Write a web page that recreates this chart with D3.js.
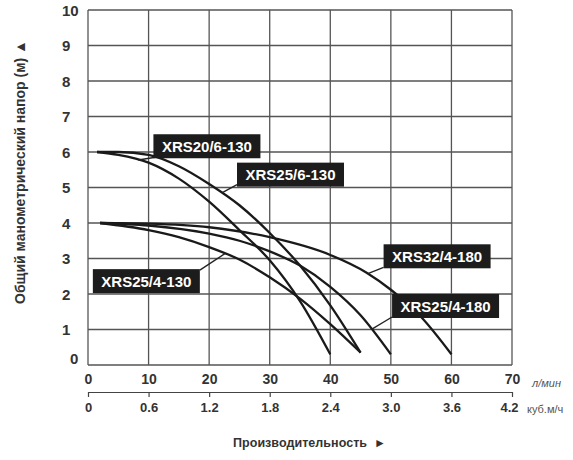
<!DOCTYPE html>
<html>
<head>
<meta charset="utf-8">
<script src="https://cdn.jsdelivr.net/npm/d3@7"></script>
<style>
  body { margin: 0; background: #fff; }
  text { font-family: "Liberation Sans", Arial, sans-serif; }
</style>
</head>
<body>
<script>
// pump curves: flow (l/min) -> head (m)
const models = ['XRS20/6-130', 'XRS25/6-130', 'XRS25/4-130', 'XRS32/4-180', 'XRS25/4-180']

const flow20_6_130 = [1.5, 5, 10, 15, 20, 25, 30, 35, 40]
const head20_6_130 = [6.0, 5.92, 5.7, 5.25, 4.6, 3.8, 2.95, 1.8, 0.3]

const flow25_6_130 = [1.5, 5, 10, 15, 20, 25, 30, 35, 40, 45]
const head25_6_130 = [6.0, 6.0, 5.92, 5.6, 5.1, 4.5, 3.72, 2.8, 1.68, 0.35]

const flow25_4_130 = [2, 10, 15, 20, 25, 30, 35, 40, 45]
const head25_4_130 = [4.0, 3.8, 3.6, 3.32, 2.97, 2.47, 1.87, 1.15, 0.35]

const flow32_4_180 = [2, 10, 20, 30, 40, 46, 50, 55, 60]
const head32_4_180 = [4.0, 3.98, 3.88, 3.6, 3.1, 2.6, 2.12, 1.35, 0.3]

const flow25_4_180 = [2, 10, 20, 25, 30, 35, 40, 45, 50]
const head25_4_180 = [4.0, 3.93, 3.7, 3.5, 3.2, 2.8, 2.2, 1.4, 0.3]

const headTicks = [0, 1, 2, 3, 4, 5, 6, 7, 8, 9, 10]
const flowTicks = [0, 10, 20, 30, 40, 50, 60, 70]
const flowM3Ticks = [0, 0.6, 1.2, 1.8, 2.4, 3.0, 3.6, 4.2]

const series = [
  { name: models[0], flow: flow20_6_130, head: head20_6_130 },
  { name: models[1], flow: flow25_6_130, head: head25_6_130 },
  { name: models[2], flow: flow25_4_130, head: head25_4_130 },
  { name: models[3], flow: flow32_4_180, head: head32_4_180 },
  { name: models[4], flow: flow25_4_180, head: head25_4_180 }
]

// label boxes: top-left corner (data units), pointer box end (px offset) and target flow on the curve
const labels = [
  { s: 0, bx: 10.8, by: 6.5, px: 2, py: 23, at: 8.3 },
  { s: 1, bx: 24.6, by: 5.7, px: 0, py: 22, at: 22.1 },
  { s: 2, bx: 0.8, by: 2.7, px: 107, py: 1, at: 22.6 },
  { s: 3, bx: 48.8, by: 3.4, px: 0, py: 23, at: 46.2 },
  { s: 4, bx: 50.2, by: 2.0, px: 0, py: 23, at: 46.8 }
]

const W = 573, H = 460
const x = d3.scaleLinear().domain([0, 70]).range([88, 512])
const x2 = d3.scaleLinear().domain([0, 4.2]).range([88, 512])
const y = d3.scaleLinear().domain([0, 10]).range([365, 10])

const svg = d3.select('body').append('svg')
  .attr('width', W)
  .attr('height', H)

// grid
const grid = svg.append('g').attr('stroke', '#555').attr('stroke-width', 1.3)
grid.selectAll('.v').data(flowTicks).join('line')
  .attr('x1', d => x(d)).attr('x2', d => x(d))
  .attr('y1', y(10)).attr('y2', y(0))
grid.selectAll('.h').data(headTicks).join('line')
  .attr('y1', d => y(d)).attr('y2', d => y(d))
  .attr('x1', x(0)).attr('x2', x(70))

// y axis labels
const yAxis = svg.append('g')
  .attr('transform', `translate(${x(0)},0)`)
  .call(d3.axisLeft(y).tickValues(headTicks).tickSize(0).tickPadding(0))
yAxis.select('.domain').remove()
yAxis.selectAll('text')
  .attr('text-anchor', 'start')
  .attr('x', d => d === 0 ? -18 : -26)
  .attr('dy', d => d === 0 ? '-0.1em' : '0.35em')
  .attr('font-size', 15).attr('font-weight', 'bold').attr('fill', '#333')
  .style('font-family', '"Liberation Sans", Arial, sans-serif')

// flow l/min labels
const xAxis = svg.append('g')
  .attr('transform', `translate(0,${y(0)})`)
  .call(d3.axisBottom(x).tickValues(flowTicks).tickSize(0).tickPadding(9))
xAxis.select('.domain').remove()
xAxis.selectAll('text')
  .attr('font-size', 14).attr('font-weight', 'bold').attr('fill', '#333')
  .style('font-family', '"Liberation Sans", Arial, sans-serif')

// flow m3/h axis
const x2Axis = svg.append('g')
  .attr('transform', 'translate(0,392)')
  .call(d3.axisBottom(x2).tickValues(flowM3Ticks).tickSize(5).tickSizeOuter(0).tickPadding(6)
    .tickFormat(d => d === 0 ? '0' : d.toFixed(1)))
x2Axis.select('.domain').attr('stroke', '#444').attr('stroke-width', 1.2)
x2Axis.selectAll('line').attr('stroke', '#444').attr('stroke-width', 1.2)
x2Axis.selectAll('text')
  .attr('font-size', 13).attr('font-weight', 'bold').attr('fill', '#333')
  .attr('dx', d => d === 4.2 ? -3 : 0)
  .style('font-family', '"Liberation Sans", Arial, sans-serif')

// units
svg.append('text').attr('x', 532).attr('y', 387)
  .attr('font-size', 11).attr('fill', '#555').attr('font-style', 'italic')
  .text('л/мин')
svg.append('text').attr('x', 527).attr('y', 413)
  .attr('font-size', 11).attr('fill', '#555')
  .text('куб.м/ч')

// axis titles
svg.append('text').attr('x', 233).attr('y', 447)
  .attr('font-size', 12.5).attr('font-weight', 'bold').attr('fill', '#333')
  .attr('textLength', 134)
  .text('Производительность')
svg.append('text').attr('x', 374).attr('y', 447)
  .attr('font-size', 12).attr('fill', '#333')
  .text('►')
svg.append('text')
  .attr('transform', 'translate(25,172) rotate(-90)')
  .attr('text-anchor', 'middle')
  .attr('font-size', 14).attr('font-weight', 'bold').attr('fill', '#333')
  .text('Общий манометрический напор (м) ▲')

// curves
const line = d3.line()
  .x(d => x(d[0]))
  .y(d => y(d[1]))
  .curve(d3.curveMonotoneX)

svg.append('g').selectAll('path').data(series).join('path')
  .attr('d', s => line(s.flow.map((f, i) => [f, s.head[i]])))
  .attr('fill', 'none')
  .attr('stroke', '#1a1a1a')
  .attr('stroke-width', 2.3)

// head on curve at given flow (linear interpolation)
const headAt = (s, f) => {
  for (let i = 1; i < s.flow.length; i++) {
    if (f <= s.flow[i]) {
      const t = (f - s.flow[i-1]) / (s.flow[i] - s.flow[i-1])
      return s.head[i-1] + t * (s.head[i] - s.head[i-1])
    }
  }
  return s.head[s.head.length - 1]
}

// labels
const lab = svg.append('g')
labels.forEach(l => {
  const s = series[l.s]
  const bx = x(l.bx), by = y(l.by)
  const tx = x(l.at), ty = y(headAt(s, l.at))
  lab.append('line')
    .attr('x1', bx + l.px).attr('y1', by + l.py)
    .attr('x2', tx).attr('y2', ty)
    .attr('stroke', '#222').attr('stroke-width', 1.3)
  lab.append('rect')
    .attr('x', bx).attr('y', by)
    .attr('width', 107).attr('height', 24)
    .attr('fill', '#1c1c1c')
  lab.append('text')
    .attr('x', bx + 53.5).attr('y', by + 17.5)
    .attr('text-anchor', 'middle')
    .attr('font-size', 15).attr('font-weight', 'bold').attr('fill', '#fff')
    .text(s.name)
})
</script>
</body>
</html>
